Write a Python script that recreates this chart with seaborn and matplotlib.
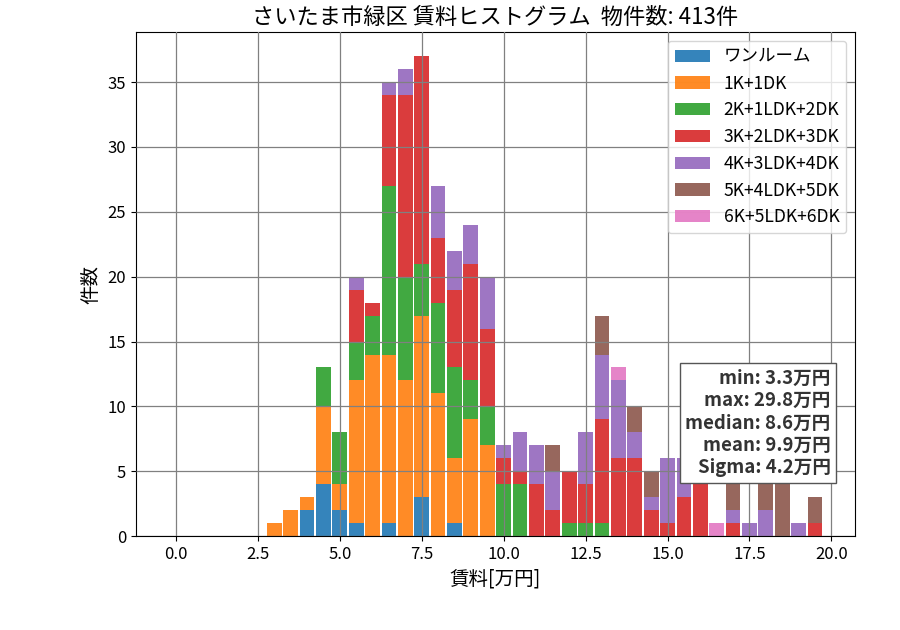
import numpy as np
import pandas as pd
import matplotlib
matplotlib.use("Agg")
import matplotlib.pyplot as plt
from matplotlib.patches import Patch
import seaborn as sns

plt.rcParams['font.family'] = ['Noto Sans CJK JP', 'DejaVu Sans']

# 区間の中心(万円)
bin_centers = [3.0, 3.5, 4.0, 4.5, 5.0, 5.5, 6.0, 6.5, 7.0, 7.5, 8.0, 8.5,
               9.0, 9.5, 10.0, 10.5, 11.0, 11.5, 12.0, 12.5, 13.0, 13.5, 14.0, 14.5,
               15.0, 15.5, 16.0, 16.5, 17.0, 17.5, 18.0, 18.5, 19.0, 19.5]

madori = ['ワンルーム', '1K+1DK', '2K+1LDK+2DK', '3K+2LDK+3DK',
          '4K+3LDK+4DK', '5K+4LDK+5DK', '6K+5LDK+6DK']

cnt_1r = [0, 0, 2, 4, 2, 1, 0, 1, 0, 3, 0, 1, 0, 0, 0, 0, 0, 0, 0, 0, 0, 0, 0, 0,
          0, 0, 0, 0, 0, 0, 0, 0, 0, 0]
cnt_1k = [1, 2, 1, 6, 2, 11, 14, 13, 12, 14, 11, 5, 9, 7, 0, 0, 0, 0, 0, 0, 0, 0, 0, 0,
          0, 0, 0, 0, 0, 0, 0, 0, 0, 0]
cnt_2k = [0, 0, 0, 3, 4, 3, 3, 13, 8, 4, 7, 7, 3, 3, 4, 4, 0, 0, 1, 1, 1, 0, 0, 0,
          0, 0, 0, 0, 0, 0, 0, 0, 0, 0]
cnt_3k = [0, 0, 0, 0, 0, 4, 1, 7, 14, 16, 5, 6, 9, 6, 2, 1, 4, 2, 4, 3, 8, 6, 6, 2,
          1, 3, 5, 0, 1, 0, 0, 0, 0, 1]
cnt_4k = [0, 0, 0, 0, 0, 1, 0, 1, 2, 0, 4, 3, 3, 4, 1, 3, 3, 3, 0, 4, 5, 6, 2, 1,
          5, 3, 0, 0, 1, 1, 2, 0, 1, 0]
cnt_5k = [0, 0, 0, 0, 0, 0, 0, 0, 0, 0, 0, 0, 0, 0, 0, 0, 0, 2, 0, 0, 3, 0, 2, 2,
          0, 0, 0, 0, 2, 0, 2, 4, 0, 2]
cnt_6k = [0, 0, 0, 0, 0, 0, 0, 0, 0, 0, 0, 0, 0, 0, 0, 0, 0, 0, 0, 0, 0, 1, 0, 0,
          0, 0, 0, 1, 0, 0, 1, 0, 0, 0]

stats_text = "min: 3.3万円\nmax: 29.8万円\nmedian: 8.6万円\nmean: 9.9万円\nSigma: 4.2万円"

counts = [cnt_1r, cnt_1k, cnt_2k, cnt_3k, cnt_4k, cnt_5k, cnt_6k]
rows = []
for name, cnt in zip(madori, counts):
    for c, n in zip(bin_centers, cnt):
        if n > 0:
            rows.append({'chinryo': c, 'madori': name, 'n': n})
df = pd.DataFrame(rows)

colors = sns.color_palette('tab10', 7)
pal = dict(zip(madori, colors))

fig = plt.figure(figsize=(9, 6.3), dpi=100)
ax = fig.add_axes([0.151, 0.149, 0.799, 0.8])

# seabornは先頭のhueを一番上に積むので逆順で渡す
sns.histplot(data=df, x='chinryo', weights='n', hue='madori', hue_order=madori[::-1],
             palette=pal, multiple='stack', binwidth=0.5, binrange=(2.75, 19.75),
             shrink=0.9, alpha=0.9, linewidth=0, legend=False, ax=ax)

ax.set_xlim(-1.22, 20.72)
ax.set_ylim(0, 38.85)
ax.set_xticks(np.arange(0, 20.1, 2.5))
ax.grid(True, color='#808080', linewidth=0.9)
ax.set_axisbelow(False)
ax.tick_params(labelsize=12)

ax.set_title('さいたま市緑区 賃料ヒストグラム  物件数: 413件', fontsize=16)
ax.set_xlabel('賃料[万円]', fontsize=14)
ax.set_ylabel('件数', fontsize=14)

handles = [Patch(facecolor=pal[m], alpha=0.9, label=m) for m in madori]
ax.legend(handles=handles, loc='upper right', fontsize=12.6, framealpha=0.8)

ax.text(0.966, 0.332, stats_text, transform=ax.transAxes, ha='right', va='top',
        fontsize=13.4, fontweight='bold', color='#333333', linespacing=1.22,
        bbox=dict(boxstyle='square,pad=0.3', facecolor='white', edgecolor='#555555'),
        zorder=5)

fig.savefig('out.png', dpi=100)
